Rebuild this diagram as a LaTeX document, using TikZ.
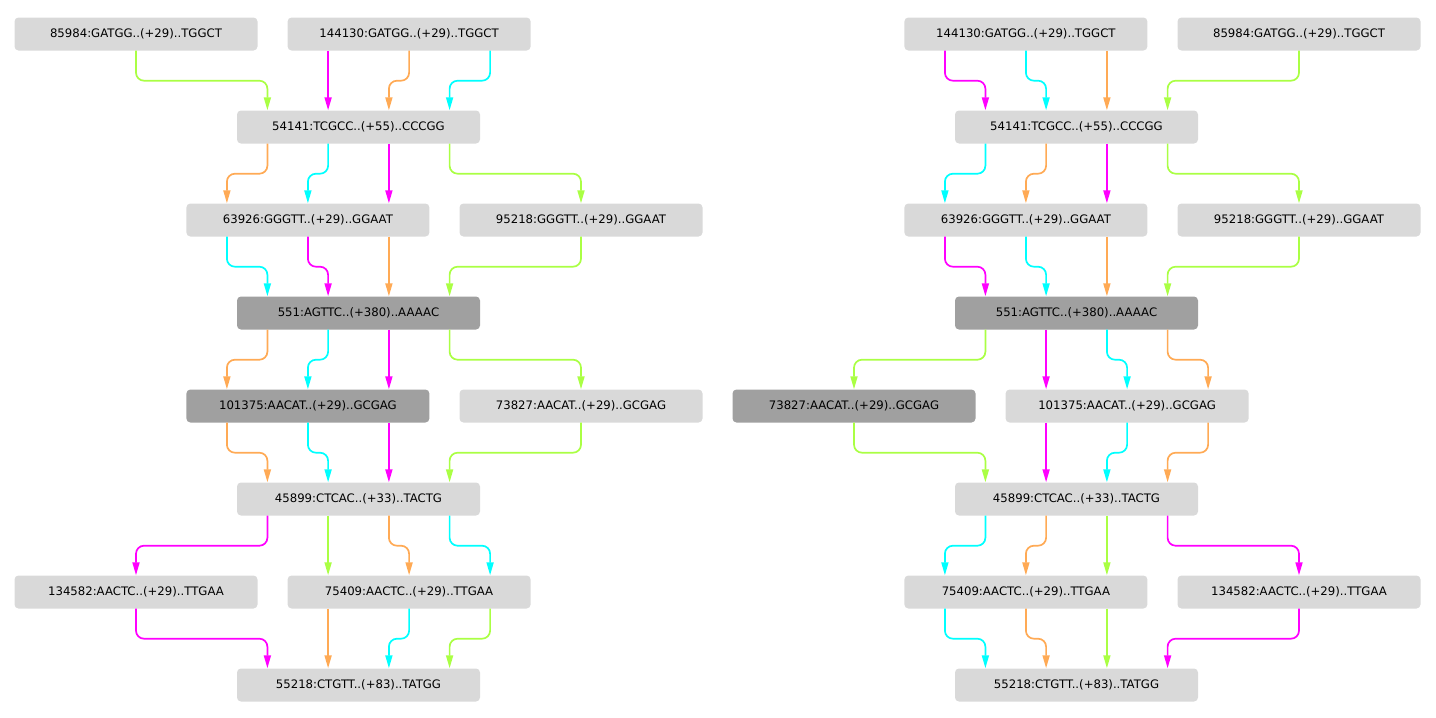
\documentclass[tikz,border=0pt]{standalone}
\usepackage{fontspec}
\setmainfont{DejaVu Sans}
\usetikzlibrary{arrows.meta}
\definecolor{boxlight}{RGB}{217,217,217}
\definecolor{boxdark}{RGB}{160,160,160}
\definecolor{linkorange}{RGB}{255,170,85}
\definecolor{linkgreen}{RGB}{170,255,68}
\definecolor{linkcyan}{RGB}{0,255,255}
\definecolor{linkmagenta}{RGB}{255,0,255}
\tikzset{
  seq/.style={rectangle, rounded corners=4pt, fill=boxlight, minimum width=243pt, minimum height=33pt, inner sep=0pt, font=\fontsize{11.7}{13}\selectfont},
  hit/.style={seq, fill=boxdark},
  link/.style={line width=1.7pt, rounded corners=8pt, -{Triangle[length=13pt, width=7pt]}}
}
\begin{document}
\begin{tikzpicture}[x=1pt, y=-1pt]
\useasboundingbox (0, 0) rectangle (1436, 718);
\node [seq] (l85984) at (136, 34) {85984:GATGG..(+29)..TGGCT};
\node [seq] (l144130) at (409.1, 34) {144130:GATGG..(+29)..TGGCT};
\node [seq] (l54141) at (358.5, 127) {54141:TCGCC..(+55)..CCCGG};
\node [seq] (l63926) at (307.9, 220) {63926:GGGTT..(+29)..GGAAT};
\node [seq] (l95218) at (581, 220) {95218:GGGTT..(+29)..GGAAT};
\node [hit] (l551) at (358.5, 313) {551:AGTTC..(+380)..AAAAC};
\node [hit] (l101375) at (307.9, 406) {101375:AACAT..(+29)..GCGAG};
\node [seq] (l73827) at (581, 406) {73827:AACAT..(+29)..GCGAG};
\node [seq] (l45899) at (358.5, 499) {45899:CTCAC..(+33)..TACTG};
\node [seq] (l134582) at (136, 592) {134582:AACTC..(+29)..TTGAA};
\node [seq] (l75409) at (409.1, 592) {75409:AACTC..(+29)..TTGAA};
\node [seq] (l55218) at (358.5, 685) {55218:CTGTT..(+83)..TATGG};
\node [seq] (r144130) at (1025.9, 34) {144130:GATGG..(+29)..TGGCT};
\node [seq] (r85984) at (1299, 34) {85984:GATGG..(+29)..TGGCT};
\node [seq] (r54141) at (1076.5, 127) {54141:TCGCC..(+55)..CCCGG};
\node [seq] (r63926) at (1025.9, 220) {63926:GGGTT..(+29)..GGAAT};
\node [seq] (r95218) at (1299, 220) {95218:GGGTT..(+29)..GGAAT};
\node [hit] (r551) at (1076.5, 313) {551:AGTTC..(+380)..AAAAC};
\node [hit] (r73827) at (854, 406) {73827:AACAT..(+29)..GCGAG};
\node [seq] (r101375) at (1127.1, 406) {101375:AACAT..(+29)..GCGAG};
\node [seq] (r45899) at (1076.5, 499) {45899:CTCAC..(+33)..TACTG};
\node [seq] (r75409) at (1025.9, 592) {75409:AACTC..(+29)..TTGAA};
\node [seq] (r134582) at (1299, 592) {134582:AACTC..(+29)..TTGAA};
\node [seq] (r55218) at (1076.5, 685) {55218:CTGTT..(+83)..TATGG};
\foreach \c/\s/\a/\t/\b in {
  linkgreen/l85984/0/l54141/-91.1, linkorange/l144130/0/l54141/30.4, linkcyan/l144130/81/l54141/91.1,
  linkorange/l54141/-91.1/l63926/-81, linkcyan/l54141/-30.4/l63926/0, linkgreen/l54141/91.1/l95218/0,
  linkcyan/l63926/-81/l551/-91.1, linkmagenta/l63926/0/l551/-30.4, linkgreen/l95218/0/l551/91.1,
  linkorange/l551/-91.1/l101375/-81, linkcyan/l551/-30.4/l101375/0, linkgreen/l551/91.1/l73827/0,
  linkorange/l101375/-81/l45899/-91.1, linkcyan/l101375/0/l45899/-30.4, linkgreen/l73827/0/l45899/91.1,
  linkmagenta/l45899/-91.1/l134582/0, linkorange/l45899/30.4/l75409/0, linkcyan/l45899/91.1/l75409/81,
  linkmagenta/l134582/0/l55218/-91.1, linkcyan/l75409/0/l55218/30.4, linkgreen/l75409/81/l55218/91.1,
  linkmagenta/r144130/-81/r54141/-91.1, linkcyan/r144130/0/r54141/-30.4, linkgreen/r85984/0/r54141/91.1,
  linkcyan/r54141/-91.1/r63926/-81, linkorange/r54141/-30.4/r63926/0, linkgreen/r54141/91.1/r95218/0,
  linkmagenta/r63926/-81/r551/-91.1, linkcyan/r63926/0/r551/-30.4, linkgreen/r95218/0/r551/91.1,
  linkgreen/r551/-91.1/r73827/0, linkcyan/r551/30.4/r101375/0, linkorange/r551/91.1/r101375/81,
  linkgreen/r73827/0/r45899/-91.1, linkcyan/r101375/0/r45899/30.4, linkorange/r101375/81/r45899/91.1,
  linkcyan/r45899/-91.1/r75409/-81, linkorange/r45899/-30.4/r75409/0, linkmagenta/r45899/91.1/r134582/0,
  linkcyan/r75409/-81/r55218/-91.1, linkorange/r75409/0/r55218/-30.4, linkmagenta/r134582/0/r55218/91.1}
  {\draw [link, \c] ([xshift=\a pt]\s.south) -- ++(0, 30) -| ([xshift=\b pt]\t.north);}
\foreach \c/\s/\a/\t/\b in {
  linkmagenta/l144130/-81/l54141/-30.4, linkmagenta/l54141/30.4/l63926/81, linkorange/l63926/81/l551/30.4,
  linkmagenta/l551/30.4/l101375/81, linkmagenta/l101375/81/l45899/30.4, linkgreen/l45899/-30.4/l75409/-81,
  linkorange/l75409/-81/l55218/-30.4,
  linkorange/r144130/81/r54141/30.4, linkmagenta/r54141/30.4/r63926/81, linkorange/r63926/81/r551/30.4,
  linkmagenta/r551/-30.4/r101375/-81, linkmagenta/r101375/-81/r45899/-30.4, linkgreen/r45899/30.4/r75409/81,
  linkgreen/r75409/81/r55218/30.4}
  {\draw [link, \c] ([xshift=\a pt]\s.south) -- ([xshift=\b pt]\t.north);}
\end{tikzpicture}
\end{document}
